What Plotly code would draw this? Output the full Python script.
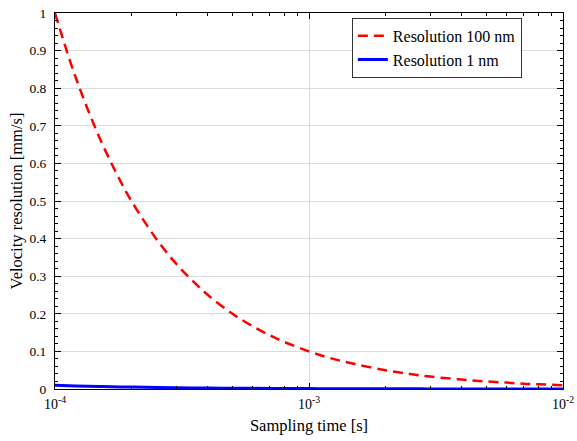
import plotly.graph_objects as go

sampling_time = [1e-4, 1.2e-4, 1.5e-4, 1.8e-4, 2e-4, 2.5e-4, 3e-4, 3.5e-4, 4e-4, 5e-4, 6e-4, 7e-4, 8e-4,
                 1e-3, 1.2e-3, 1.5e-3, 2e-3, 2.5e-3, 3e-3, 4e-3, 5e-3, 6e-3, 7e-3, 8e-3, 1e-2]
vel_100nm = [1.0, 0.833, 0.667, 0.556, 0.5, 0.4, 0.333, 0.286, 0.25, 0.2, 0.167, 0.143, 0.125,
             0.1, 0.083, 0.067, 0.05, 0.04, 0.033, 0.025, 0.02, 0.017, 0.014, 0.0125, 0.01]
vel_1nm = [0.01, 0.0083, 0.0067, 0.0056, 0.005, 0.004, 0.0033, 0.0029, 0.0025, 0.002, 0.0017, 0.0014, 0.0013,
           0.001, 0.00083, 0.00067, 0.0005, 0.0004, 0.00033, 0.00025, 0.0002, 0.00017, 0.00014, 0.000125, 0.0001]

x_ticks = [1e-4, 1e-3, 1e-2]
x_ticktext = ["10<sup>-4</sup>", "10<sup>-3</sup>", "10<sup>-2</sup>"]
y_ticks = [0, 0.1, 0.2, 0.3, 0.4, 0.5, 0.6, 0.7, 0.8, 0.9, 1]
y_ticktext = ["0", "0.1", "0.2", "0.3", "0.4", "0.5", "0.6", "0.7", "0.8", "0.9", "1"]

x_minor = [m * d for d in (1e-4, 1e-3) for m in range(2, 10)]
y_minor = [i / 50 for i in range(51) if i % 5 != 0]

font = "Liberation Serif, DejaVu Serif, serif"

fig = go.Figure()
fig.add_trace(go.Scatter(x=sampling_time, y=vel_100nm, mode="lines", name="Resolution 100 nm",
                         line=dict(color="#ff0000", width=2.5, dash="10px,6px", shape="spline")))
fig.add_trace(go.Scatter(x=sampling_time, y=vel_1nm, mode="lines", name="Resolution 1 nm",
                         line=dict(color="#0000ff", width=3, shape="spline")))

axis_common = dict(showline=True, linecolor="black", linewidth=1, mirror="allticks",
                   ticks="inside", ticklen=6, tickcolor="black", tickwidth=1, showgrid=True,
                   gridcolor="#dcdcdc", gridwidth=1, zeroline=False, automargin=False)

fig.update_xaxes(type="log", range=[-4, -2], tickmode="array", tickvals=x_ticks, ticktext=x_ticktext,
                 tickfont=dict(family=font, size=14, color="black"), ticklabelstandoff=2,
                 title=dict(text="Sampling time [s]", font=dict(family=font, size=16.5, color="black"), standoff=8),
                 minor=dict(tickmode="array", tickvals=x_minor, ticks="inside", ticklen=3, tickcolor="black",
                            tickwidth=1, showgrid=False),
                 **axis_common)
fig.update_yaxes(range=[0, 1], tickmode="array", tickvals=y_ticks, ticktext=y_ticktext,
                 tickfont=dict(family=font, size=13.5, color="black"), ticklabelstandoff=5,
                 title=dict(text="Velocity resolution [mm/s]", font=dict(family=font, size=16.5, color="black"), standoff=2),
                 minor=dict(tickmode="array", tickvals=y_minor, ticks="inside", ticklen=3, tickcolor="black",
                            tickwidth=1, showgrid=False),
                 **axis_common)

fig.update_layout(width=577, height=441, margin=dict(l=55, r=14, t=13, b=52),
                  plot_bgcolor="white", paper_bgcolor="white",
                  font=dict(family=font, size=13, color="black"),
                  legend=dict(x=0.919, y=0.987, xanchor="right", yanchor="top",
                              bgcolor="white", bordercolor="#333333", borderwidth=1,
                              font=dict(family=font, size=16, color="black"),
                              itemwidth=30, tracegroupgap=0))

fig.write_html("out.html", config={"displayModeBar": False},
               post_script="document.body.style.margin='0';document.body.style.padding='0';")
